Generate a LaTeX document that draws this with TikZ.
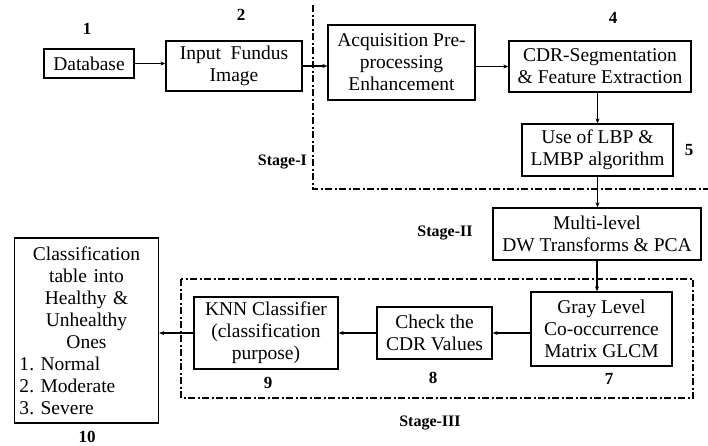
\documentclass[tikz,border=0pt]{standalone}
\usepackage{fontspec}
\setmainfont{Liberation Serif}
\usetikzlibrary{arrows.meta}
\frenchspacing
\begin{document}
\begin{tikzpicture}[x=1pt,y=-1pt,
	box/.style={draw, line width=1.3pt, align=center, inner sep=2pt, font=\fontsize{19.5}{22}\selectfont},
	num/.style={font=\bfseries\fontsize{17}{20}\selectfont},
	stage/.style={font=\bfseries\fontsize{16}{19}\selectfont},
	flow/.style={line width=1.1pt, -{Stealth[length=5pt,width=4pt]}},
	border/.style={line width=1.1pt, dash pattern=on 7pt off 2.5pt on 2pt off 2.5pt}]
	\useasboundingbox (0,0) rectangle (708,445);
	% stage borders
	\draw[border] (313,5) -- (313,189) -- (708,189);
	\draw[border] (181,279) rectangle (693,398);
	% boxes
	\node (db) at (89,63.5)       [box, minimum width=90, minimum height=29] {Database};
	\node (fundus) at (234,66)    [box, minimum width=136, minimum height=50] {Input\ \ Fundus\\Image};
	\node (acq) at (401.5,62.5)   [box, minimum width=147, minimum height=75] {Acquisition Pre-\\processing\\Enhancement};
	\node (cdr) at (600,66.5)     [box, minimum width=182, minimum height=51] {CDR-Segmentation\\\& Feature Extraction};
	\node (lbp) at (597.5,150)    [box, minimum width=151, minimum height=52] {Use of LBP \&\\LMBP algorithm};
	\node (dwt) at (597,234)      [box, minimum width=208, minimum height=52] {Multi-level\\DW Transforms \& PCA};
	\node (glcm) at (601.5,329)   [box, minimum width=141, minimum height=74] {Gray Level\\Co-occurrence\\Matrix GLCM};
	\node (check) at (434.5,333)  [box, minimum width=115, minimum height=52] {Check the\\CDR Values};
	\node (knn) at (266,333)      [box, minimum width=144, minimum height=72] {KNN Classifier\\(classification\\purpose)};
	\node (cls) at (86.5,330.5)   [box, align=left, inner xsep=5pt, text width=134, minimum height=185]
		{\centering Classification\\table into\\Healthy \&\\Unhealthy\\Ones\par
		\raggedright 1. Normal\\2. Moderate\\3. Severe\par};
	% numbers
	\node (n1) at (87,29)    [num] {1};
	\node (n2) at (241,15)   [num] {2};
	\node (n4) at (613,18)   [num] {4};
	\node (n5) at (689,150)  [num] {5};
	\node (n7) at (609,379)  [num] {7};
	\node (n8) at (433,378)  [num] {8};
	\node (n9) at (268,383)  [num] {9};
	\node (n10) at (87,437)  [num] {10};
	% stage labels
	\node (s1) at (307,162) [stage, anchor=east, inner sep=0pt] {Stage-I};
	\node (s2) at (445,233) [stage] {Stage-II};
	\node (s3) at (430,423) [stage] {Stage-III};
	% arrows
	\draw[flow] (db.east) -- (db.east -| fundus.west);
	\draw[flow] (fundus.east) -- (fundus.east -| acq.west);
	\draw[flow] (cdr.west -| acq.east) -- (cdr.west);
	\draw[flow] (lbp.north |- cdr.south) -- (lbp.north);
	\draw[flow] (lbp.south) -- (lbp.south |- dwt.north);
	\draw[flow] (dwt.south) -- (dwt.south |- glcm.north);
	\draw[flow] (glcm.west |- check.east) -- (check.east);
	\draw[flow] (check.west) -- (check.west -| knn.east);
	\draw[flow] (knn.west) -- (knn.west -| cls.east);
\end{tikzpicture}
\end{document}
